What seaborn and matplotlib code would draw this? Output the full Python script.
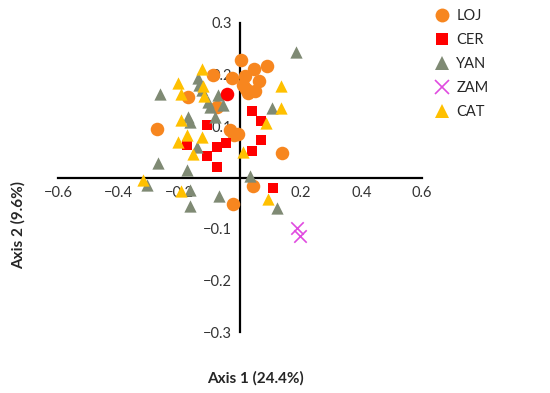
import pandas as pd
import seaborn as sns
import matplotlib.pyplot as plt
from matplotlib.lines import Line2D

# --- data (PCoA scores) ---
loj_x = [0.003, 0.046, 0.089, 0.017, -0.026, 0.063, 0.010, 0.028, 0.050, 0.020,
         -0.089, -0.172, -0.076, -0.274, -0.033, -0.020, -0.005, 0.139, 0.043, -0.023]
loj_y = [0.228, 0.211, 0.217, 0.197, 0.193, 0.187, 0.180, 0.164, 0.168, 0.172,
         0.199, 0.156, 0.137, 0.094, 0.092, 0.083, 0.085, 0.047, -0.017, -0.052]

cer_x = [-0.109, -0.175, -0.109, -0.076, -0.046, -0.076, 0.040, 0.069, 0.069, 0.040, 0.109]
cer_y = [0.102, 0.063, 0.041, 0.059, 0.067, 0.020, 0.129, 0.110, 0.072, 0.051, -0.020]

# one red point drawn as a circle in the original
cer_dot_x = [-0.043]
cer_dot_y = [0.162]

yan_x = [0.184, 0.106, 0.033, 0.122, -0.139, -0.135, -0.125, -0.264, -0.106, -0.099, -0.073,
         -0.056, -0.172, -0.165, -0.142, -0.271, -0.175, -0.307, -0.165, -0.165, -0.069, -0.083]
yan_y = [0.244, 0.135, 0.002, -0.059, 0.193, 0.180, 0.170, 0.163, 0.147, 0.137, 0.161,
         0.141, 0.117, 0.108, 0.059, 0.028, 0.014, -0.015, -0.024, -0.056, -0.036, 0.117]

zam_x = [0.188, 0.198]
zam_y = [-0.098, -0.114]

cat_x = [0.135, 0.135, 0.086, 0.010, 0.092, -0.125, -0.205, -0.195, -0.122, -0.119,
         -0.195, -0.175, -0.125, -0.205, -0.155, -0.320, -0.195]
cat_y = [0.178, 0.135, 0.106, 0.050, -0.042, 0.211, 0.184, 0.162, 0.178, 0.159,
         0.112, 0.083, 0.078, 0.068, 0.046, -0.005, -0.026]

groups = ["LOJ", "CER", "YAN", "ZAM", "CAT"]
colors = {"LOJ": "#F7861F", "CER": "#FF0000", "YAN": "#7F8A74", "ZAM": "#E04BE0", "CAT": "#FFC000"}
markers = {"LOJ": "o", "CER": "s", "YAN": "^", "ZAM": "x", "CAT": "^"}
sizes = {"LOJ": 95, "CER": 62, "YAN": 78, "ZAM": 80, "CAT": 78}

df = pd.concat([
    pd.DataFrame({"x": loj_x, "y": loj_y, "group": "LOJ"}),
    pd.DataFrame({"x": cer_x, "y": cer_y, "group": "CER"}),
    pd.DataFrame({"x": yan_x, "y": yan_y, "group": "YAN"}),
    pd.DataFrame({"x": zam_x, "y": zam_y, "group": "ZAM"}),
    pd.DataFrame({"x": cat_x, "y": cat_y, "group": "CAT"}),
], ignore_index=True)

sns.set_style("white")
plt.rcParams["font.family"] = ["Lato", "DejaVu Sans"]

fig = plt.figure(figsize=(5.5, 3.93), dpi=100)
W, H = 550, 393
ax = fig.add_axes([58 / W, 1 - 332 / H, (422 - 58) / W, (332 - 23) / H])

for g in groups:
    sub = df[df["group"] == g]
    sns.scatterplot(data=sub, x="x", y="y", ax=ax, color=colors[g], marker=markers[g],
                    s=sizes[g], linewidth=1.2 if g == "ZAM" else 0, zorder=3, legend=False)
sns.scatterplot(x=cer_dot_x, y=cer_dot_y, ax=ax, color=colors["CER"], marker="o",
                s=95, linewidth=0, zorder=3, legend=False)

ax.set_xlim(-0.6, 0.6)
ax.set_ylim(-0.3, 0.3)
ax.spines["left"].set_position("zero")
ax.spines["bottom"].set_position("zero")
ax.spines["right"].set_visible(False)
ax.spines["top"].set_visible(False)
for sp in ("left", "bottom"):
    ax.spines[sp].set_linewidth(1.6)
    ax.spines[sp].set_color("black")

xt = [-0.6, -0.4, -0.2, 0.2, 0.4, 0.6]
yt = [-0.3, -0.2, -0.1, 0.1, 0.2, 0.3]
ax.set_xticks(xt)
ax.set_xticklabels([f"{v:g}".replace("-", "\u2212") for v in xt])
ax.set_yticks(yt)
ax.set_yticklabels([f"{v:g}".replace("-", "\u2212") for v in yt])
ax.tick_params(length=0, labelsize=10.5, colors="#333333", pad=6)
ax.set_xlabel("")
ax.set_ylabel("")
ax.grid(False)

fig.text(255 / W, 1 - 378 / H, "Axis 1 (24.4%)", ha="center", va="center",
         fontsize=11, fontweight="bold")
fig.text(18 / W, 1 - 225 / H, "Axis 2 (9.6%)", ha="center", va="center",
         fontsize=11, fontweight="bold", rotation=90)

handles = [Line2D([], [], linestyle="none", marker=markers[g], color=colors[g],
                  markersize=10 if g != "CER" else 9, markeredgewidth=1.2 if g == "ZAM" else 0)
           for g in groups]
fig.legend(handles, groups, loc="upper left", bbox_to_anchor=(420 / W, 1 + 4 / H),
           frameon=False, fontsize=10.5, handletextpad=0.4, labelspacing=0.68,
           handlelength=1.2)

fig.savefig("out.png", dpi=100)
